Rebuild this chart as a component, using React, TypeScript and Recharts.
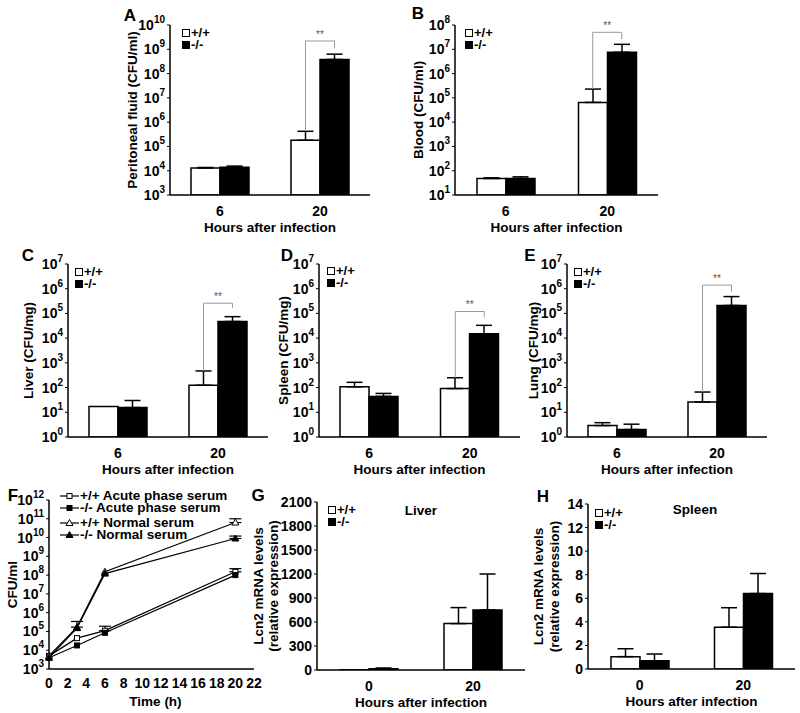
import React from "react";
import {
  Bar,
  BarChart,
  ErrorBar,
  Label,
  Line,
  LineChart,
  ReferenceLine,
  XAxis,
  YAxis,
} from "recharts";

const FONT = '"Liberation Sans", Arial, Helvetica, sans-serif';
const BAR_W = 29;
const Y_W = 40;
const X_H = 40;

// A-E: bacterial counts, +/+ (wt) vs -/- (ko)
const infectionHours = ["6", "20"];

const aWt = [1.3e4, 1.8e5];
const aWtTop = [1.36e4, 4.2e5];
const aKo = [1.4e4, 3.8e8];
const aKoTop = [1.55e4, 6.3e8];
const aBracket = [2.2e9, 1.1e9];

const bWt = [48, 6.5e4];
const bWtTop = [51, 2.3e5];
const bKo = [48, 7.5e6];
const bKoTop = [56, 1.6e7];
const bBracket = [5e7, 2.6e7];

const cWt = [17, 124];
const cWtTop = [null, 470];
const cKo = [15.5, 4.7e4];
const cKoTop = [30, 7.4e4];
const cBracket = [2.6e5, 1.7e5];

const dWt = [107, 91];
const dWtTop = [163, 250];
const dKo = [44, 1.5e4];
const dKoTop = [58, 3.3e4];
const dBracket = [1.2e5, 7e4];

const eWt = [2.9, 26];
const eWtTop = [3.8, 66];
const eKo = [2.0, 2.1e5];
const eKoTop = [3.3, 4.8e5];
const eBracket = [1.4e6, 7.6e5];

// F: growth in serum
const fTimes = [0, 3, 6, 20];
const fWtAps = [5e3, 4.4e4, 1.1e5, 1.5e8];
const fWtApsTop = [null, null, 1.9e5, 2.2e8];
const fKoAps = [4e3, 1.8e4, 8.5e4, 1.0e8];
const fWtNs = [5e3, 1.7e5, 1.5e8, 6.3e10];
const fWtNsTop = [null, 3.4e5, null, 1.0e11];
const fKoNs = [4e3, 1.5e5, 1.2e8, 8.9e9];
const fKoNsTop = [null, null, null, 1.2e10];
const fTimeTicks = [0, 2, 4, 6, 8, 10, 12, 14, 16, 18, 20, 22];

// G, H: Lcn2 mRNA
const mrnaHours = ["0", "20"];
const gWt = [3, 580];
const gWtTop = [null, 780];
const gKo = [15, 750];
const gKoTop = [25, 1200];
const gTicks = [0, 300, 600, 900, 1200, 1500, 1800, 2100];

const hWt = [1.05, 3.55];
const hWtTop = [1.72, 5.2];
const hKo = [0.7, 6.4];
const hKoTop = [1.27, 8.1];
const hTicks = [0, 2, 4, 6, 8, 10, 12, 14];

const decades = (lo: number, hi: number) => {
  const out: number[] = [];
  for (let e = lo; e <= hi; e++) out.push(Math.pow(10, e));
  return out;
};

const AXIS = { stroke: "#000", strokeWidth: 1.5 };
const TICK = { fill: "#000", fontSize: 14, fontWeight: 700, fontFamily: FONT };
const LABEL = { fill: "#000", fontSize: 13.5, fontWeight: 700, fontFamily: FONT };

const err = (v: number, top: number | null) => (top == null ? null : [0, top - v]);

const renderLogTick = (props: any) => {
  const { x, y, payload } = props;
  const e = Math.round(Math.log10(payload.value));
  return (
    <text x={x} y={y} textAnchor="end" dominantBaseline="central" style={TICK}>
      <tspan>10</tspan>
      <tspan dy={-6} fontSize={10}>
        {e}
      </tspan>
    </text>
  );
};

function bracketLines(cat: string, from: number, top: number, rightEnd: number) {
  const grey = "#999";
  return [
    <ReferenceLine
      key="bl"
      ifOverflow="visible"
      segment={[{ x: cat, y: from }, { x: cat, y: top }]}
      shape={(p: any) => (
        <line x1={p.x1 - BAR_W / 2} y1={p.y1} x2={p.x2 - BAR_W / 2} y2={p.y2} stroke={grey} strokeWidth={1} />
      )}
    />,
    <ReferenceLine
      key="bt"
      ifOverflow="visible"
      segment={[{ x: cat, y: top }, { x: cat, y: top }]}
      shape={(p: any) => (
        <g>
          <line x1={p.x1 - BAR_W / 2} y1={p.y1} x2={p.x1 + BAR_W / 2} y2={p.y1} stroke={grey} strokeWidth={1} />
          <text
            x={p.x1}
            y={p.y1 - 3}
            textAnchor="middle"
            style={{ fill: "#555", fontSize: 10, fontFamily: FONT }}
          >
            **
          </text>
        </g>
      )}
    />,
    <ReferenceLine
      key="br"
      ifOverflow="visible"
      segment={[{ x: cat, y: top }, { x: cat, y: rightEnd }]}
      shape={(p: any) => (
        <line x1={p.x1 + BAR_W / 2} y1={p.y1} x2={p.x2 + BAR_W / 2} y2={p.y2} stroke={grey} strokeWidth={1} />
      )}
    />,
  ];
}

type BarPanelProps = {
  box: number[];
  plot: number[];
  categories: string[];
  wt: number[];
  wtTop: (number | null)[];
  ko: number[];
  koTop: (number | null)[];
  log?: boolean;
  domain: number[];
  ticks: number[];
  yLabel: string[];
  yLabelX: number[];
  bracket?: number[];
};

function BarPanel(p: BarPanelProps) {
  const [left, top, width, height] = p.box;
  const [x0, x1, y0, y1] = p.plot;
  const data = p.categories.map((c, i) => ({
    cat: c,
    wt: p.wt[i],
    ko: p.ko[i],
    wtErr: err(p.wt[i], p.wtTop[i]),
    koErr: err(p.ko[i], p.koTop[i]),
  }));
  const margin = {
    left: x0 - left - Y_W,
    right: left + width - x1,
    top: y0 - top,
    bottom: top + height - y1 - X_H,
  };
  const last = p.categories.length - 1;
  const midY = (y0 + y1) / 2 - top;
  return (
    <div style={{ position: "absolute", left, top }}>
      <BarChart width={width} height={height} data={data} margin={margin} barSize={BAR_W} barGap={0}>
        <XAxis dataKey="cat" height={X_H} tickLine={false} tickSize={0} tickMargin={11} axisLine={AXIS} tick={TICK}>
          <Label
            content={() => (
              <text x={(x0 + x1) / 2 - left} y={y1 + 37 - top} textAnchor="middle" style={LABEL}>
                Hours after infection
              </text>
            )}
          />
        </XAxis>
        <YAxis
          width={Y_W}
          scale={p.log ? "log" : "linear"}
          domain={p.domain}
          ticks={p.ticks}
          interval={0}
          allowDataOverflow
          tickSize={3}
          tickMargin={2}
          axisLine={AXIS}
          tickLine={{ stroke: "#000" }}
          tick={p.log ? renderLogTick : TICK}
        >
          <Label
            content={() => (
              <g>
                {p.yLabel.map((t, i) => {
                  const lx = p.yLabelX[i] - left;
                  return (
                    <text
                      key={i}
                      x={lx}
                      y={midY}
                      textAnchor="middle"
                      dominantBaseline="central"
                      transform={`rotate(-90, ${lx}, ${midY})`}
                      style={LABEL}
                    >
                      {t}
                    </text>
                  );
                })}
              </g>
            )}
          />
        </YAxis>
        <Bar dataKey="wt" fill="#fff" stroke="#000" strokeWidth={1.5} isAnimationActive={false}>
          <ErrorBar dataKey="wtErr" direction="y" width={8} stroke="#000" strokeWidth={1.5} />
        </Bar>
        <Bar dataKey="ko" fill="#000" stroke="#000" strokeWidth={1.5} isAnimationActive={false}>
          <ErrorBar dataKey="koErr" direction="y" width={8} stroke="#000" strokeWidth={1.5} />
        </Bar>
        {p.bracket &&
          bracketLines(p.categories[last], p.wtTop[last] as number, p.bracket[0], p.bracket[1])}
      </BarChart>
    </div>
  );
}

function Marker({ cx, cy, kind }: { cx: number; cy: number; kind: string }) {
  const open = kind.startsWith("open");
  const fill = open ? "#fff" : "#000";
  if (kind.endsWith("Square")) {
    return <rect x={cx - 2.5} y={cy - 2.5} width={5} height={5} fill={fill} stroke="#000" strokeWidth={1} />;
  }
  return (
    <path
      d={`M${cx},${cy - 3.5} L${cx + 3.5},${cy + 2.5} L${cx - 3.5},${cy + 2.5} Z`}
      fill={fill}
      stroke="#000"
      strokeWidth={1}
    />
  );
}

const markerDot = (kind: string) => (props: any) =>
  <Marker key={`${kind}-${props.index}`} cx={props.cx} cy={props.cy} kind={kind} />;

function GrowthPanel() {
  const left = 0;
  const top = 480;
  const width = 262;
  const height = 233;
  const [x0, x1, y0, y1] = [49, 254, 500, 669];
  const data = fTimes.map((t, i) => ({
    t,
    wtAps: fWtAps[i],
    wtApsErr: err(fWtAps[i], fWtApsTop[i]),
    koAps: fKoAps[i],
    wtNs: fWtNs[i],
    wtNsErr: err(fWtNs[i], fWtNsTop[i]),
    koNs: fKoNs[i],
    koNsErr: err(fKoNs[i], fKoNsTop[i]),
  }));
  const margin = {
    left: x0 - left - Y_W,
    right: left + width - x1,
    top: y0 - top,
    bottom: top + height - y1 - X_H,
  };
  const midY = (y0 + y1) / 2 - top;
  const series = [
    { key: "wtAps", errKey: "wtApsErr", kind: "openSquare" },
    { key: "koAps", errKey: null, kind: "filledSquare" },
    { key: "wtNs", errKey: "wtNsErr", kind: "openTriangle" },
    { key: "koNs", errKey: "koNsErr", kind: "filledTriangle" },
  ];
  return (
    <div style={{ position: "absolute", left, top }}>
      <LineChart width={width} height={height} data={data} margin={margin}>
        <XAxis
          type="number"
          dataKey="t"
          domain={[0, 22]}
          ticks={fTimeTicks}
          interval={0}
          tickLine={false}
          tickSize={0}
          tickMargin={9}
          height={X_H}
          axisLine={AXIS}
          tick={TICK}
        >
          <Label
            content={() => (
              <text x={(x0 + x1) / 2 - left + 4} y={y1 + 37 - top} textAnchor="middle" style={LABEL}>
                Time (h)
              </text>
            )}
          />
        </XAxis>
        <YAxis
          width={Y_W}
          scale="log"
          domain={[1e3, 1e12]}
          ticks={decades(3, 12)}
          interval={0}
          allowDataOverflow
          tickSize={3}
          tickMargin={2}
          axisLine={AXIS}
          tickLine={{ stroke: "#000" }}
          tick={renderLogTick}
        >
          <Label
            content={() => (
              <text
                x={12}
                y={midY}
                textAnchor="middle"
                dominantBaseline="central"
                transform={`rotate(-90, 12, ${midY})`}
                style={LABEL}
              >
                CFU/ml
              </text>
            )}
          />
        </YAxis>
        {series.map((s) => (
          <Line
            key={s.key}
            dataKey={s.key}
            stroke="#000"
            strokeWidth={1.2}
            dot={markerDot(s.kind)}
            activeDot={false}
            isAnimationActive={false}
          >
            {s.errKey && <ErrorBar dataKey={s.errKey} direction="y" width={6} stroke="#000" strokeWidth={1.2} />}
          </Line>
        ))}
      </LineChart>
    </div>
  );
}

const textStyle: React.CSSProperties = {
  fontFamily: FONT,
  fontWeight: 700,
  fontSize: 13.5,
  color: "#000",
  whiteSpace: "nowrap",
};

function Letter({ x, y, t }: { x: number; y: number; t: string }) {
  return (
    <div
      style={{
        ...textStyle,
        fontSize: 17,
        position: "absolute",
        left: x,
        top: y,
        transform: "translate(-50%, -50%)",
        lineHeight: 1,
      }}
    >
      {t}
    </div>
  );
}

function Swatch({ filled }: { filled: boolean }) {
  return (
    <span
      style={{
        display: "inline-block",
        width: 6,
        height: 6,
        border: "1px solid #000",
        background: filled ? "#000" : "#fff",
        marginRight: 1,
      }}
    />
  );
}

function BarLegend({ x, y1, y2 }: { x: number; y1: number; y2: number }) {
  const row = (y: number, filled: boolean, label: string) => (
    <div
      style={{
        ...textStyle,
        fontSize: 13,
        position: "absolute",
        left: x,
        top: y - 6,
        height: 12,
        lineHeight: "12px",
        display: "flex",
        alignItems: "center",
      }}
    >
      <Swatch filled={filled} />
      {label}
    </div>
  );
  return (
    <>
      {row(y1, false, "+/+")}
      {row(y2, true, "-/-")}
    </>
  );
}

const growthLegend = [
  { kind: "openSquare", label: "+/+ Acute phase serum", y: 496 },
  { kind: "filledSquare", label: "-/- Acute phase serum", y: 508 },
  { kind: "openTriangle", label: "+/+ Normal serum", y: 523 },
  { kind: "filledTriangle", label: "-/- Normal serum", y: 535 },
];

function GrowthLegend() {
  return (
    <>
      {growthLegend.map((g) => (
        <div
          key={g.kind}
          style={{
            ...textStyle,
            position: "absolute",
            left: 60,
            top: g.y - 6,
            height: 12,
            lineHeight: "12px",
            display: "flex",
            alignItems: "center",
          }}
        >
          <svg width={19} height={10} style={{ marginRight: 1 }}>
            <line x1={0} y1={5} x2={19} y2={5} stroke="#000" strokeWidth={1.2} />
            <Marker cx={9.5} cy={5} kind={g.kind} />
          </svg>
          {g.label}
        </div>
      ))}
    </>
  );
}

function Title({ x, y, t }: { x: number; y: number; t: string }) {
  return (
    <div
      style={{
        ...textStyle,
        position: "absolute",
        left: x,
        top: y,
        transform: "translate(-50%, -50%)",
        lineHeight: 1,
      }}
    >
      {t}
    </div>
  );
}

export default function App() {
  return (
    <div
      style={{
        position: "absolute",
        left: 0,
        top: 0,
        width: 800,
        height: 713,
        background: "#fff",
        overflow: "hidden",
      }}
    >
      <BarPanel
        box={[100, 0, 275, 240]}
        plot={[170, 370, 25, 195]}
        categories={infectionHours}
        wt={aWt}
        wtTop={aWtTop}
        ko={aKo}
        koTop={aKoTop}
        log
        domain={[1e3, 1e10]}
        ticks={decades(3, 10)}
        yLabel={["Peritoneal fluid (CFU/ml)"]}
        yLabelX={[132]}
        bracket={aBracket}
      />
      <BarPanel
        box={[400, 0, 265, 240]}
        plot={[455, 658, 25, 195]}
        categories={infectionHours}
        wt={bWt}
        wtTop={bWtTop}
        ko={bKo}
        koTop={bKoTop}
        log
        domain={[1e1, 1e8]}
        ticks={decades(1, 8)}
        yLabel={["Blood (CFU/ml)"]}
        yLabelX={[418]}
        bracket={bBracket}
      />
      <BarPanel
        box={[0, 245, 275, 240]}
        plot={[68, 268, 264, 437]}
        categories={infectionHours}
        wt={cWt}
        wtTop={cWtTop}
        ko={cKo}
        koTop={cKoTop}
        log
        domain={[1, 1e7]}
        ticks={decades(0, 7)}
        yLabel={["Liver (CFU/mg)"]}
        yLabelX={[28]}
        bracket={cBracket}
      />
      <BarPanel
        box={[275, 245, 250, 240]}
        plot={[319, 520, 264, 437]}
        categories={infectionHours}
        wt={dWt}
        wtTop={dWtTop}
        ko={dKo}
        koTop={dKoTop}
        log
        domain={[1, 1e7]}
        ticks={decades(0, 7)}
        yLabel={["Spleen (CFU/mg)"]}
        yLabelX={[283]}
        bracket={dBracket}
      />
      <BarPanel
        box={[525, 245, 275, 240]}
        plot={[567, 767, 264, 437]}
        categories={infectionHours}
        wt={eWt}
        wtTop={eWtTop}
        ko={eKo}
        koTop={eKoTop}
        log
        domain={[1, 1e7]}
        ticks={decades(0, 7)}
        yLabel={["Lung (CFU/mg)"]}
        yLabelX={[533]}
        bracket={eBracket}
      />
      <GrowthPanel />
      <BarPanel
        box={[250, 480, 280, 233]}
        plot={[317, 525, 502, 670]}
        categories={mrnaHours}
        wt={gWt}
        wtTop={gWtTop}
        ko={gKo}
        koTop={gKoTop}
        domain={[0, 2100]}
        ticks={gTicks}
        yLabel={["Lcn2 mRNA levels", "(relative expression)"]}
        yLabelX={[258, 273]}
      />
      <BarPanel
        box={[530, 480, 270, 233]}
        plot={[588, 795, 504, 669]}
        categories={mrnaHours}
        wt={hWt}
        wtTop={hWtTop}
        ko={hKo}
        koTop={hKoTop}
        domain={[0, 14]}
        ticks={hTicks}
        yLabel={["Lcn2 mRNA levels", "(relative expression)"]}
        yLabelX={[538, 554]}
      />

      <BarLegend x={182} y1={33} y2={45} />
      <BarLegend x={465} y1={33} y2={45} />
      <BarLegend x={75} y1={272} y2={284} />
      <BarLegend x={327} y1={271} y2={283} />
      <BarLegend x={574} y1={272} y2={284} />
      <BarLegend x={328} y1={510} y2={522} />
      <BarLegend x={595} y1={513} y2={525} />
      <GrowthLegend />

      <Title x={421} y={511} t="Liver" />
      <Title x={695} y={510} t="Spleen" />

      <Letter x={130} y={15} t="A" />
      <Letter x={418} y={13} t="B" />
      <Letter x={28} y={255} t="C" />
      <Letter x={287} y={255} t="D" />
      <Letter x={530} y={255} t="E" />
      <Letter x={13} y={495} t="F" />
      <Letter x={258} y={495} t="G" />
      <Letter x={543} y={496} t="H" />
    </div>
  );
}
